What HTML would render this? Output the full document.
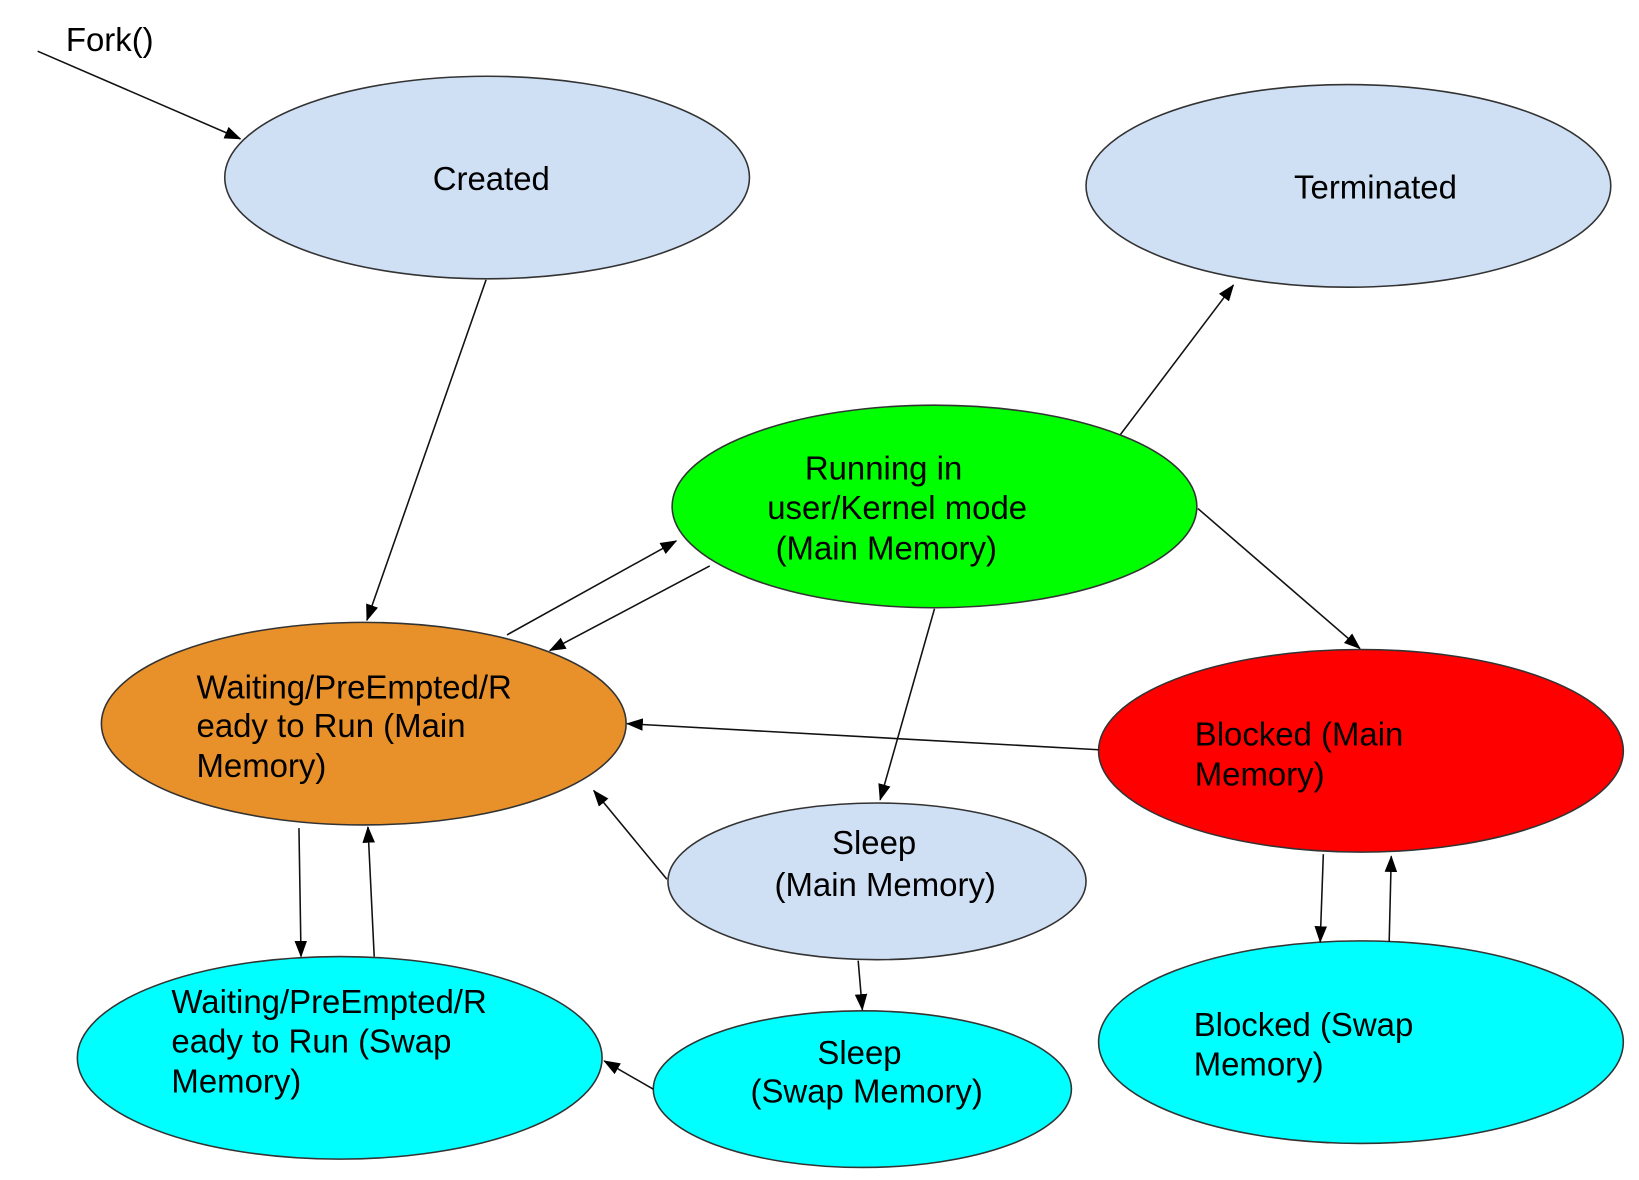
<!DOCTYPE html>
<html><head><style>html,body{margin:0;padding:0;background:#fff;}svg{display:block}</style></head>
<body>
<svg width="1639" height="1180" viewBox="0 0 1568 1130" preserveAspectRatio="none" xmlns="http://www.w3.org/2000/svg" font-family="Liberation Sans, Arial, sans-serif" font-size="31.5">
<defs><marker id="a" markerWidth="16" markerHeight="12" refX="15" refY="6" orient="auto" markerUnits="userSpaceOnUse"><path d="M0,0 L16,6 L0,12 z" fill="#000"/></marker></defs>
<g stroke="#333" stroke-width="1.5">
<ellipse cx="466" cy="170" rx="251" ry="97" fill="#cfe0f5"/>
<ellipse cx="1290" cy="178" rx="251" ry="97" fill="#cfe0f5"/>
<ellipse cx="894" cy="485" rx="251" ry="97" fill="#00ff00"/>
<ellipse cx="348" cy="693" rx="251" ry="97" fill="#e8912a"/>
<ellipse cx="1302" cy="719" rx="251" ry="97" fill="#ff0000"/>
<ellipse cx="839" cy="844" rx="200" ry="75" fill="#cfe0f5"/>
<ellipse cx="325" cy="1013" rx="251" ry="97" fill="#00ffff"/>
<ellipse cx="825" cy="1043" rx="200" ry="75" fill="#00ffff"/>
<ellipse cx="1302" cy="998" rx="251" ry="97" fill="#00ffff"/>
</g>
<g stroke="#111" stroke-width="1.5" marker-end="url(#a)">
<line x1="36" y1="49" x2="230" y2="133"/>
<line x1="465" y1="268" x2="351" y2="594"/>
<line x1="1072" y1="416" x2="1180" y2="273"/>
<line x1="485" y1="608" x2="647" y2="518"/>
<line x1="679" y1="542" x2="526" y2="623"/>
<line x1="1146" y1="487" x2="1301" y2="621"/>
<line x1="894" y1="583" x2="842" y2="766"/>
<line x1="1051" y1="718" x2="600" y2="693"/>
<line x1="638" y1="842" x2="568" y2="757"/>
<line x1="286" y1="793" x2="288" y2="916"/>
<line x1="358" y1="916" x2="352" y2="792"/>
<line x1="821" y1="920" x2="825" y2="967"/>
<line x1="625" y1="1043" x2="578" y2="1016"/>
<line x1="1266" y1="818" x2="1263" y2="902"/>
<line x1="1329" y1="902" x2="1331" y2="820"/>
</g>
<g fill="#000">
<text x="63" y="49">Fork()</text>
<text x="414" y="182">Created</text>
<text x="1238" y="190">Terminated</text>
<text x="770" y="459">Running in</text>
<text x="734" y="497">user/Kernel mode</text>
<text x="742" y="536">(Main Memory)</text>
<text x="188" y="669">Waiting/PreEmpted/R</text>
<text x="188" y="706">eady to Run (Main</text>
<text x="188" y="744">Memory)</text>
<text x="1143" y="714">Blocked (Main</text>
<text x="1143" y="752">Memory)</text>
<text x="796" y="818">Sleep</text>
<text x="741" y="858">(Main Memory)</text>
<text x="164" y="970">Waiting/PreEmpted/R</text>
<text x="164" y="1008">eady to Run (Swap</text>
<text x="164" y="1046">Memory)</text>
<text x="782" y="1019">Sleep</text>
<text x="718" y="1056">(Swap Memory)</text>
<text x="1142" y="992">Blocked (Swap</text>
<text x="1142" y="1030">Memory)</text>
</g>
</svg>
</body></html>
